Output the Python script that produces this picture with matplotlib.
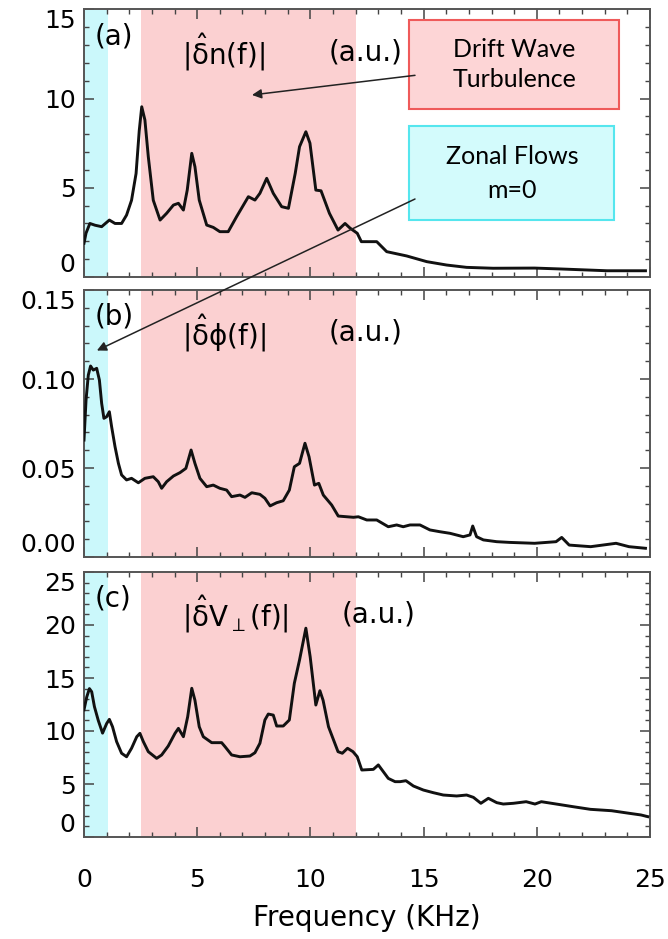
import numpy as np
import matplotlib
matplotlib.use("Agg")
import matplotlib.pyplot as plt
from matplotlib.patches import Rectangle, ConnectionPatch
from matplotlib.ticker import MultipleLocator

plt.rcParams["font.family"] = ["DejaVu Sans"]
plt.rcParams["mathtext.fontset"] = "dejavusans"

# spectrum values (frequency in kHz)
freq_a = [0, 0.09, 0.26, 0.49, 0.78, 1.12, 1.37, 1.66, 1.88, 2.1, 2.3, 2.44, 2.55, 2.69, 2.84,
          3.06, 3.36, 3.65, 3.95, 4.17, 4.39, 4.56, 4.76, 4.9, 5.09, 5.42, 5.71, 6.0, 6.37,
          6.74, 7.26, 7.55, 7.77, 8.07, 8.36, 8.73, 9.03, 9.33, 9.52, 9.8, 9.98, 10.24, 10.47,
          10.84, 11.22, 11.53, 11.75, 12.07, 12.25, 12.93, 13.37, 14.25, 15.14, 16.02, 16.9,
          18.07, 19.9, 21.05, 23.1, 24.8]
amp_a = [1.89, 2.46, 3.0, 2.9, 2.82, 3.19, 3.0, 3.0, 3.47, 4.3, 5.8, 8.2, 9.54, 8.8, 6.74,
         4.3, 3.19, 3.57, 4.03, 4.13, 3.75, 4.87, 6.93, 6.18, 4.31, 2.91, 2.78, 2.54, 2.54,
         3.38, 4.5, 4.31, 4.69, 5.53, 4.69, 3.94, 3.85, 5.81, 7.3, 8.14, 7.5, 4.87, 4.83,
         3.57, 2.63, 3.0, 2.74, 2.45, 1.98, 1.98, 1.42, 1.18, 0.86, 0.67, 0.54,
         0.49, 0.5, 0.45, 0.35, 0.35]

freq_b = [0, 0.09, 0.19, 0.29, 0.41, 0.56, 0.68, 0.78, 0.88, 1.0, 1.12, 1.22, 1.37, 1.52, 1.66,
          1.88, 2.1, 2.4, 2.69, 3.06, 3.28, 3.43, 3.65, 3.95, 4.24, 4.5, 4.73, 4.9, 5.12, 5.42,
          5.71, 6.0, 6.3, 6.52, 6.89, 7.11, 7.41, 7.77, 7.99, 8.22, 8.51, 8.8, 9.07, 9.29, 9.52,
          9.76, 9.94, 10.18, 10.37, 10.57, 10.94, 11.23, 11.9, 12.12, 12.49, 12.93, 13.44,
          13.81, 14.1, 14.4, 14.84, 15.28, 15.72, 16.17, 16.75, 17.05, 17.17, 17.34, 17.64,
          18.23, 18.8, 19.9, 20.85, 21.1, 21.43, 22.38, 23.5, 24.07, 24.8]
amp_b = [0.0657, 0.0882, 0.1022, 0.1073, 0.105, 0.106, 0.0994, 0.0863, 0.0779, 0.0788, 0.0816,
         0.0732, 0.062, 0.0526, 0.0461, 0.0433, 0.0442, 0.0417, 0.0442, 0.0451, 0.0423, 0.0386,
         0.0423, 0.0455, 0.0474, 0.0498, 0.0601, 0.0526, 0.0442, 0.0395, 0.0404, 0.0386, 0.0376,
         0.0339, 0.0348, 0.0335, 0.0361, 0.0352, 0.033, 0.0287, 0.0305, 0.0316, 0.0376, 0.0507,
         0.0526, 0.0639, 0.0563, 0.0404, 0.0414, 0.0348, 0.0292, 0.023, 0.0223, 0.0226, 0.0208,
         0.0208, 0.017, 0.018, 0.017, 0.018, 0.018, 0.0152, 0.0142, 0.0133, 0.0114, 0.0124,
         0.0174, 0.0114, 0.0096, 0.0086, 0.0082, 0.0077, 0.0086, 0.011, 0.0067, 0.0058, 0.0077,
         0.0058, 0.0049]

freq_c = [0, 0.12, 0.24, 0.34, 0.46, 0.63, 0.82, 1.0, 1.12, 1.26, 1.44, 1.66, 1.88, 2.1, 2.33,
          2.47, 2.62, 2.84, 3.21, 3.43, 3.72, 4.02, 4.17, 4.39, 4.58, 4.76, 4.9, 5.09, 5.27,
          5.64, 6.08, 6.23, 6.52, 6.89, 7.33, 7.55, 7.77, 7.99, 8.14, 8.36, 8.51, 8.8, 9.07,
          9.29, 9.52, 9.8, 9.99, 10.24, 10.42, 10.56, 10.8, 11.22, 11.41, 11.64, 11.88, 12.07,
          12.27, 12.78, 13.0, 13.44, 13.74, 13.96, 14.22, 14.55, 14.99, 15.43, 15.87, 16.46,
          16.9, 17.2, 17.53, 17.86, 18.23, 18.52, 18.97, 19.53, 19.92, 20.2, 20.86, 21.6,
          22.37, 23.3, 24.07, 24.6, 24.9]
amp_c = [12.0, 13.2, 14.0, 13.7, 12.3, 11.0, 9.8, 10.7, 11.1, 10.4, 9.0, 7.9, 7.57, 8.37, 9.46,
         9.78, 9.0, 8.05, 7.42, 7.74, 8.58, 9.78, 10.25, 9.46, 11.35, 14.03, 12.9, 10.4, 9.46,
         8.9, 8.9, 8.52, 7.74, 7.57, 7.64, 7.95, 8.84, 11.04, 11.6, 11.5, 10.47, 10.47, 11.04,
         14.5, 16.7, 19.7, 17.0, 12.45, 13.8, 12.9, 10.4, 8.05, 7.9, 8.37, 8.05, 7.57,
         6.32, 6.38, 6.8, 5.53, 5.22, 5.22, 5.31, 4.81, 4.43, 4.18, 3.96, 3.87,
         3.96, 3.74, 3.18, 3.65, 3.24, 3.11, 3.18, 3.33, 3.11, 3.33, 3.11, 2.86,
         2.61, 2.48, 2.24, 2.08, 1.92]

zonal_band = (0, 1.05)
drift_band = (2.5, 12)

panel_tags = ["(a)", "(b)", "(c)"]
panel_names = [r"|$\hat{\mathrm{\delta}}$n(f)|", r"|$\hat{\mathrm{\delta}}$ϕ(f)|",
               r"|$\hat{\mathrm{\delta}}$V$_\perp$(f)|"]
y_ranges = [(0, 15), (0, 0.15), (0, 25)]
y_majors = [5, 0.05, 5]
y_minors = [1, 0.01, 1]
y_formats = ["{:.0f}", "{:.2f}", "{:.0f}"]

cyan = "#cbf8fb"
pink = "#fbd0d1"

fig = plt.figure(figsize=(6.68, 9.39), dpi=100)
W, H = 668, 939
frames = [(9.3, 277), (290, 557), (572, 837)]
axes = []
for top, bot in frames:
    ax = fig.add_axes([84 / W, 1 - bot / H, 566 / W, (bot - top) / H])
    axes.append(ax)

data = [(freq_a, amp_a), (freq_b, amp_b), (freq_c, amp_c)]
for i, ax in enumerate(axes):
    ax.axvspan(*zonal_band, color=cyan, lw=0, zorder=0)
    ax.axvspan(*drift_band, color=pink, lw=0, zorder=0)
    ax.plot(data[i][0], data[i][1], color="#111111", lw=2.1, zorder=3)
    ax.set_xlim(0, 25)
    ax.set_ylim(*y_ranges[i])
    ax.xaxis.set_major_locator(MultipleLocator(5))
    ax.xaxis.set_minor_locator(MultipleLocator(1))
    ax.yaxis.set_minor_locator(MultipleLocator(y_minors[i]))
    yt = np.arange(y_ranges[i][0], y_ranges[i][1] + y_majors[i] / 2, y_majors[i])
    ax.set_yticks(yt)
    ax.set_yticklabels([y_formats[i].format(v) for v in yt])
    ax.tick_params(which="both", direction="in", top=True, right=True, color="#444444")
    ax.tick_params(which="major", length=7, width=1.1, labelsize=18, pad=6)
    ax.tick_params(which="minor", length=3.5, width=1)
    # keep the end labels inside the frame like the original
    yticks = ax.yaxis.get_major_ticks()
    yticks[0].label1.set_verticalalignment("bottom")
    yticks[-1].label1.set_verticalalignment("top")
    for s in ax.spines.values():
        s.set_color("#555555")
        s.set_linewidth(1.4)
    if i < 2:
        ax.set_xticklabels([])
    ax.text(0.019, 0.9, panel_tags[i], transform=ax.transAxes, fontsize=20,
            va="center", ha="left")
    ax.text(0.174, 0.84, panel_names[i], transform=ax.transAxes, fontsize=20,
            va="center", ha="left")
    ax.text(0.432 if i < 2 else 0.456, 0.84, "(a.u.)", transform=ax.transAxes, fontsize=20,
            va="center", ha="left")

axes[2].tick_params(axis="x", which="major", pad=22)
axes[2].set_xlabel("Frequency (KHz)", fontsize=20, labelpad=9)

# annotation boxes
ax_a = axes[0]
ax_a.add_patch(Rectangle((14.36, 9.41), 9.27, 5.0, facecolor="#fdd5d6", edgecolor="#ef5a5a",
                         lw=1.5, zorder=5))
ax_a.text(19.0, 11.9, "Drift Wave\nTurbulence", ha="center", va="center", fontsize=18,
          family="Lato", linespacing=1.4, zorder=6)
ax_a.add_patch(Rectangle((14.36, 3.19), 9.05, 5.27, facecolor="#d3fbfc", edgecolor="#55e6ee",
                         lw=1.5, zorder=5))
ax_a.text(18.9, 5.8, "Zonal Flows\nm=0", ha="center", va="center", fontsize=18,
          family="Lato", linespacing=1.55, zorder=6)

arr1 = ConnectionPatch(xyA=(14.62, 11.3), coordsA=ax_a.transData, xyB=(7.42, 10.2),
                       coordsB=ax_a.transData, arrowstyle="-|>", mutation_scale=14, lw=1.1,
                       color="#222222", zorder=7)
fig.add_artist(arr1)
arr2 = ConnectionPatch(xyA=(14.62, 4.37), coordsA=ax_a.transData, xyB=(0.57, 0.116),
                       coordsB=axes[1].transData, arrowstyle="-|>", mutation_scale=14, lw=1.1,
                       color="#222222", zorder=7)
fig.add_artist(arr2)

fig.savefig("out.png", dpi=100)
